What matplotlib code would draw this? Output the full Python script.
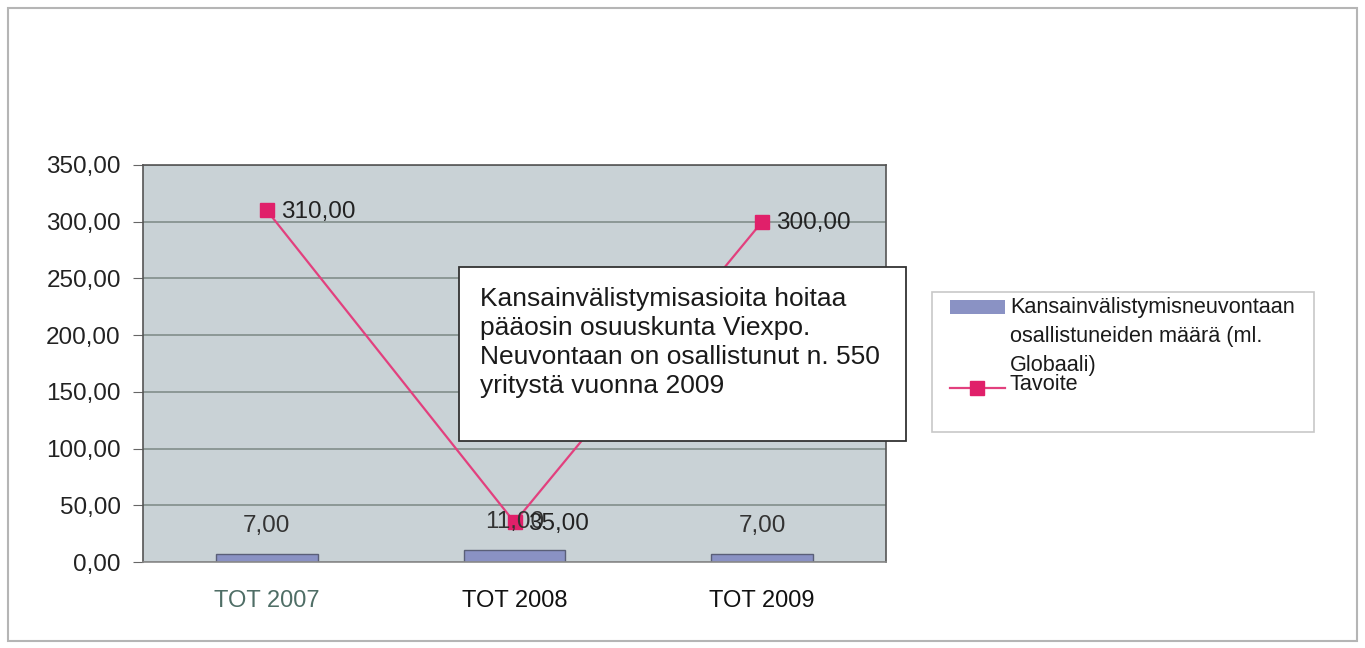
import matplotlib.pyplot as plt
from matplotlib.patches import Rectangle
from matplotlib.lines import Line2D

plt.rcParams['font.family'] = ['Liberation Sans', 'DejaVu Sans']

# data
kategoriat = ['TOT 2007', 'TOT 2008', 'TOT 2009']
osallistuneet = [7.00, 11.00, 7.00]  # palkit
tavoite = [310.00, 35.00, 300.00]  # viiva
y_ticks = [0, 50, 100, 150, 200, 250, 300, 350]

selite_palkit = 'Kansainvälistymisneuvontaan\nosallistuneiden määrä (ml.\nGlobaali)'
selite_viiva = 'Tavoite'
huomio = ('Kansainvälistymisasioita hoitaa\npääosin osuuskunta Viexpo.\n'
          'Neuvontaan on osallistunut n. 550\nyritystä vuonna 2009')


def fmt(v):
    return f'{v:.2f}'.replace('.', ',')


fig = plt.figure(figsize=(13.65, 6.48), dpi=100)
ax = fig.add_axes([143 / 1365, 1 - 562 / 648, 743 / 1365, 397 / 648])

# ulkoreunus
fig.patches.append(Rectangle((8 / 1365, 7 / 648), 1349 / 1365, 633 / 648,
                             transform=fig.transFigure, fill=False,
                             edgecolor='#b5b5b5', lw=1.5))

ax.set_facecolor('#c9d2d6')
x = range(len(kategoriat))
ax.bar(x, osallistuneet, width=0.41, color='#8a92c4', edgecolor='#5a5f78', lw=1, zorder=2)
ax.plot(x, tavoite, color='#e2407e', lw=1.6, marker='s', markersize=10,
        markerfacecolor='#e0206a', markeredgecolor='#e0206a', zorder=3)

for i, v in enumerate(osallistuneet):
    ax.annotate(fmt(v), (i, v), xytext=(0, 20), textcoords='offset points',
                ha='center', va='center', fontsize=17.5, color='#333333', zorder=4)
for i, v in enumerate(tavoite):
    ax.annotate(fmt(v), (i, v), xytext=(10, -1), textcoords='offset points',
                ha='left', va='center', fontsize=17.5, color='#222222', zorder=4)

ax.set_xlim(-0.5, 2.5)
ax.set_ylim(0, 350)
ax.set_yticks(y_ticks)
ax.set_yticklabels([fmt(v) for v in y_ticks], fontsize=17.5, color='#222222')
ax.set_xticks(list(x))
ax.set_xticklabels(kategoriat, fontsize=17, color='#111111')
ax.get_xticklabels()[0].set_color('#4f6e66')
ax.tick_params(axis='x', length=0, pad=20)
ax.tick_params(axis='y', length=7, color='#666666', pad=9)
ax.yaxis.grid(True, color='#7b8884', lw=1.1, zorder=1)
ax.set_axisbelow(True)
for s in ax.spines.values():
    s.set_color('#555555')
    s.set_linewidth(1.2)
ax.spines['bottom'].set_color('#8a8a8a')

# tekstilaatikko
fig.patches.append(Rectangle((459 / 1365, 1 - 441 / 648), 447 / 1365, 174 / 648,
                             transform=fig.transFigure, facecolor='white',
                             edgecolor='#333333', lw=1.3, zorder=5))
fig.text(480 / 1365, 1 - 287 / 648, huomio, fontsize=19, color='#1a1a1a',
         va='top', ha='left', linespacing=1.26, zorder=6)

# selite
fig.patches.append(Rectangle((932 / 1365, 1 - 432 / 648), 382 / 1365, 140 / 648,
                             transform=fig.transFigure, facecolor='white',
                             edgecolor='#c8c8c8', lw=1.2))
fig.patches.append(Rectangle((950 / 1365, 1 - 314 / 648), 55 / 1365, 14 / 648,
                             transform=fig.transFigure, facecolor='#8a92c4',
                             edgecolor='none'))
fig.text(1010 / 1365, 1 - 297 / 648, selite_palkit, fontsize=15.6, color='#1a1a1a',
         va='top', ha='left', linespacing=1.5)
fig.lines.append(Line2D([950 / 1365, 1005 / 1365], [1 - 388 / 648, 1 - 388 / 648],
                        transform=fig.transFigure, color='#e2407e', lw=1.6))
fig.lines.append(Line2D([977 / 1365], [1 - 388 / 648], transform=fig.transFigure,
                        marker='s', markersize=10, color='#e0206a', lw=0))
fig.text(1010 / 1365, 1 - 385 / 648, selite_viiva, fontsize=15.6, color='#1a1a1a',
         va='center', ha='left')

plt.savefig('out.png', dpi=100)
plt.close()
